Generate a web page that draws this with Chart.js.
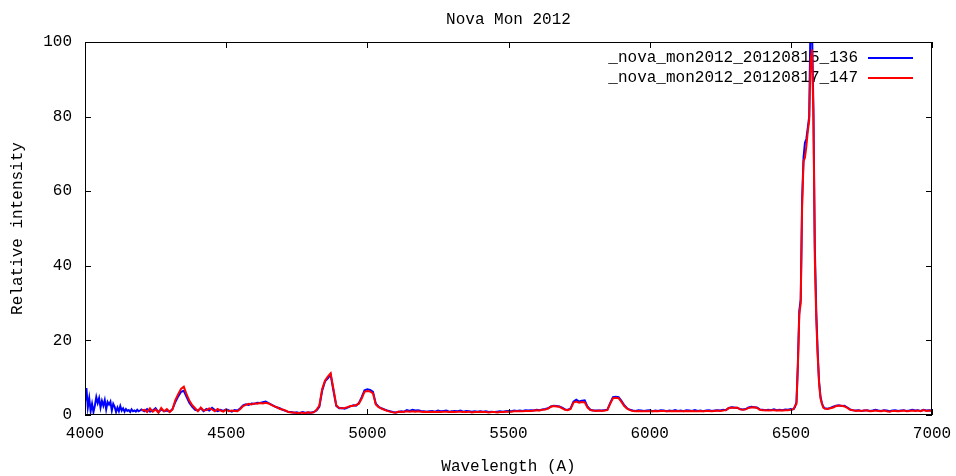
<!DOCTYPE html>
<html>
<head>
<meta charset="utf-8">
<title>Nova Mon 2012</title>
<script src="https://cdn.jsdelivr.net/npm/chart.js@4"></script>
<style>
  html, body { margin: 0; padding: 0; background: #fff; }
  #wrap { width: 956px; height: 476px; position: relative; }
</style>
</head>
<body>
<div id="wrap"><canvas id="novaChart"></canvas></div>
<script>
// Longitudes de onda (A) y espectros
const wavelength = [
  4000,4005,4010,4015,4020,4025,4030,4035,4040,4045,
  4050,4055,4060,4065,4070,4075,4080,4085,4090,4095,
  4100,4105,4110,4115,4120,4125,4130,4135,4140,4145,
  4150,4155,4160,4165,4170,4175,4180,4185,4190,4195,
  4200,4210,4220,4230,4240,4250,4260,4270,4280,4290,
  4300,4310,4320,4330,4340,4350,4360,4370,4380,4390,
  4400,4410,4420,4430,4440,4450,4460,4470,4480,4490,
  4500,4510,4520,4530,4540,4550,4560,4570,4580,4590,
  4600,4610,4620,4630,4640,4650,4660,4670,4680,4690,
  4700,4710,4720,4730,4740,4750,4760,4770,4780,4790,
  4800,4810,4820,4830,4840,4850,4860,4870,4880,4890,
  4900,4910,4920,4930,4940,4950,4960,4970,4980,4990,
  5000,5010,5020,5030,5040,5050,5060,5070,5080,5090,
  5100,5110,5120,5130,5140,5150,5160,5170,5180,5190,
  5200,5210,5220,5230,5240,5250,5260,5270,5280,5290,
  5300,5310,5320,5330,5340,5350,5360,5370,5380,5390,
  5400,5410,5420,5430,5440,5450,5460,5470,5480,5490,
  5500,5510,5520,5530,5540,5550,5560,5570,5580,5590,
  5600,5610,5620,5630,5640,5650,5660,5670,5680,5690,
  5700,5710,5720,5730,5740,5750,5760,5770,5780,5790,
  5800,5810,5820,5830,5840,5850,5860,5870,5880,5890,
  5900,5910,5920,5930,5940,5950,5960,5970,5980,5990,
  6000,6010,6020,6030,6040,6050,6060,6070,6080,6090,
  6100,6110,6120,6130,6140,6150,6160,6170,6180,6190,
  6200,6210,6220,6230,6240,6250,6260,6270,6280,6290,
  6300,6310,6320,6330,6340,6350,6360,6370,6380,6390,
  6400,6410,6420,6430,6440,6450,6460,6470,6480,6490,
  6500,6505,6510,6515,6520,6525,6530,6535,6540,6545,
  6550,6555,6560,6565,6570,6575,6580,6585,6590,6595,
  6600,6605,6610,6615,6620,6630,6640,6650,6660,6670,
  6680,6690,6700,6710,6720,6730,6740,6750,6760,6770,
  6780,6790,6800,6810,6820,6830,6840,6850,6860,6870,
  6880,6890,6900,6910,6920,6930,6940,6950,6960,6970,
  6980,6990,7000
];

const flux0815 = [
  3.5,7.2,2.0,4.5,1.0,3.0,0.8,2.5,4.8,3.2,
  4.5,2.0,3.8,2.5,4.0,1.5,3.5,2.8,3.6,1.2,
  3.0,2.2,0.8,2.0,1.0,2.4,1.2,1.8,0.9,1.6,
  1.1,1.3,0.8,1.5,1.0,1.2,0.9,1.4,1.0,1.2,
  1.5,1.0,1.6,0.9,1.2,1.8,0.8,1.5,1.0,1.2,
  0.9,1.6,3.5,5.0,6.2,6.5,4.8,3.2,2.2,1.4,
  1.2,1.8,1.0,1.6,1.2,1.9,1.3,1.0,1.4,1.1,
  1.5,1.2,0.9,1.3,1.2,1.8,2.6,2.9,2.7,3.1,
  3.0,3.3,3.2,3.4,3.6,3.2,2.8,2.4,2.0,1.8,
  1.4,1.1,0.9,0.8,0.6,0.7,0.5,0.8,0.6,0.7,
  0.6,0.8,1.2,2.2,6.5,9.0,9.8,10.8,6.5,2.4,
  1.8,1.9,1.7,2.0,2.3,2.6,2.5,3.2,4.8,6.6,
  6.9,6.7,6.2,3.0,2.2,1.8,1.5,1.2,1.0,0.8,
  0.7,0.8,1.0,0.9,1.3,1.1,1.4,1.2,1.3,1.1,
  1.0,0.9,1.0,1.1,0.9,1.2,1.0,1.1,1.2,0.9,
  1.0,1.1,1.0,1.2,0.9,1.1,1.0,0.9,1.0,0.9,
  1.0,0.9,1.0,0.8,0.9,0.8,0.9,1.0,0.9,1.0,
  1.1,1.0,1.2,1.1,1.2,1.1,1.3,1.2,1.3,1.2,
  1.4,1.3,1.5,1.6,1.8,2.3,2.5,2.4,2.3,2.0,
  1.5,1.4,1.8,3.6,4.1,3.6,3.8,3.9,2.2,1.4,
  1.2,1.2,1.2,1.2,1.3,1.4,3.2,4.8,4.9,4.8,
  3.8,2.6,1.8,1.4,1.2,1.1,1.3,1.2,1.1,1.2,
  1.3,1.0,1.2,1.1,1.3,1.2,1.0,1.2,1.1,1.3,
  1.1,1.2,1.0,1.3,1.2,1.1,1.3,1.1,1.2,1.0,
  1.2,1.3,1.1,1.2,1.3,1.2,1.4,1.3,1.9,2.1,
  2.0,1.9,1.6,1.5,1.6,2.0,2.2,2.1,2.0,1.5,
  1.4,1.3,1.4,1.3,1.5,1.3,1.4,1.3,1.5,1.4,
  1.6,1.5,1.6,2.2,3.5,14.0,28.0,31.0,58.0,69.0,
  73.0,74.0,77.0,80.0,108.0,104.0,82.0,45.0,28.0,17.0,
  9.0,5.0,3.2,2.2,1.8,1.7,1.9,2.2,2.5,2.6,
  2.4,2.5,2.0,1.5,1.3,1.2,1.3,1.1,1.2,1.3,
  1.1,1.2,1.4,1.2,1.1,1.3,1.2,1.0,1.2,1.3,
  1.1,1.2,1.3,1.1,1.2,1.4,1.2,1.3,1.1,1.4,
  1.2,1.3,1.2
];

const flux0817 = [
  null,null,null,null,null,null,null,null,null,null,
  null,null,null,null,null,null,null,null,null,null,
  null,null,null,null,null,null,null,null,null,null,
  null,null,null,null,null,null,null,null,null,null,
  1.2,1.4,0.8,1.8,0.9,1.5,0.6,1.9,1.0,1.6,
  0.8,1.5,4.0,5.6,7.0,7.6,5.5,3.8,2.6,1.8,
  1.0,2.0,1.2,1.3,1.8,1.5,1.0,1.6,1.2,0.9,
  1.4,1.0,1.2,1.1,1.0,1.6,2.4,2.7,3.0,2.8,
  3.1,3.0,3.2,3.1,3.3,3.1,2.7,2.3,2.1,1.6,
  1.5,1.2,0.8,0.7,0.7,0.5,0.6,0.6,0.5,0.7,
  0.6,0.7,1.4,2.5,7.0,9.2,10.3,11.2,7.0,2.6,
  1.9,1.8,1.9,2.1,2.4,2.5,2.7,3.0,4.4,6.2,
  6.4,6.3,5.8,2.8,2.1,1.7,1.4,1.1,0.9,0.7,
  0.6,0.9,0.8,0.9,1.0,0.9,1.0,0.9,1.0,0.9,
  0.8,0.9,0.8,0.9,0.8,0.9,0.8,0.9,0.9,0.8,
  0.9,0.8,0.9,0.9,0.8,0.8,0.9,0.7,0.8,0.8,
  0.9,0.8,0.8,0.7,0.8,0.8,0.7,0.8,0.8,0.9,
  0.9,0.9,1.0,1.0,1.0,1.0,1.1,1.1,1.1,1.2,
  1.3,1.2,1.4,1.5,1.7,2.2,2.4,2.3,2.2,1.8,
  1.4,1.3,1.6,3.3,3.6,3.3,3.5,3.4,2.0,1.3,
  1.2,1.1,1.2,1.1,1.2,1.3,3.0,4.5,4.6,4.5,
  3.5,2.4,1.7,1.3,1.1,1.0,1.1,1.0,1.0,1.0,
  1.1,1.0,1.1,1.0,1.1,1.1,1.0,1.0,1.1,1.0,
  1.1,1.0,1.0,1.1,1.0,1.1,1.0,1.0,1.1,1.0,
  1.1,1.1,1.0,1.1,1.2,1.1,1.2,1.3,1.8,2.0,
  1.9,2.0,1.5,1.4,1.5,1.9,2.0,2.1,1.9,1.4,
  1.3,1.3,1.2,1.3,1.3,1.2,1.3,1.2,1.3,1.3,
  1.4,1.5,1.6,2.5,3.0,13.0,27.0,30.0,56.0,68.0,
  69.0,72.0,76.0,79.0,95.0,98.0,80.0,42.0,26.0,16.0,
  8.5,4.5,3.0,2.0,1.7,1.6,1.8,2.0,2.4,2.5,
  2.5,2.3,1.9,1.4,1.3,1.1,1.2,1.1,1.2,1.2,
  1.0,1.1,1.2,1.1,1.0,1.2,1.0,0.9,1.1,1.1,
  1.0,1.1,1.2,1.0,1.1,1.2,1.1,1.2,1.0,1.3,
  1.1,1.2,1.1
];

const seriesNames = ['_nova_mon2012_20120815_136', '_nova_mon2012_20120817_147'];
const seriesColors = ['#0000ff', '#ff0000'];
const xTicks = [4000, 4500, 5000, 5500, 6000, 6500, 7000];
const yTicks = [0, 20, 40, 60, 80, 100];

const FONT = "'Liberation Mono', 'DejaVu Sans Mono', monospace";
Chart.defaults.font.family = FONT;
Chart.defaults.font.size = 16;
Chart.defaults.color = '#000';

function toPoints(flux) {
    return wavelength.map(function (w, i) { return { x: w, y: flux[i] }; });
}

// Marco y marcas hacia dentro, estilo gnuplot
const frameTicks = {
    id: 'frameTicks',
    afterDatasetsDraw(chart) {
        const ctx = chart.ctx;
        const a = chart.chartArea;
        const xs = chart.scales.x, ys = chart.scales.y;
        const len = 6;
        ctx.save();
        ctx.strokeStyle = '#000';
        ctx.lineWidth = 1;
        ctx.strokeRect(Math.round(a.left) + 0.5, Math.round(a.top) + 0.5,
            Math.round(a.right - a.left) - 1, Math.round(a.bottom - a.top) - 1);
        ctx.beginPath();
        xTicks.forEach(function (v) {
            const px = Math.round(xs.getPixelForValue(v)) + 0.5;
            ctx.moveTo(px, a.bottom); ctx.lineTo(px, a.bottom - len);
            ctx.moveTo(px, a.top); ctx.lineTo(px, a.top + len);
        });
        yTicks.forEach(function (v) {
            const py = Math.round(ys.getPixelForValue(v)) + 0.5;
            ctx.moveTo(a.left, py); ctx.lineTo(a.left + len, py);
            ctx.moveTo(a.right, py); ctx.lineTo(a.right - len, py);
        });
        ctx.stroke();
        ctx.restore();
    }
};

// Leyenda arriba a la derecha: texto alineado a la derecha y muestra de linea
const keyBox = {
    id: 'keyBox',
    beforeDatasetsDraw(chart) {
        const ctx = chart.ctx;
        const a = chart.chartArea;
        ctx.save();
        ctx.font = '16px ' + FONT;
        ctx.textAlign = 'right';
        ctx.textBaseline = 'middle';
        chart.data.datasets.forEach(function (ds, i) {
            const y = a.top + 16 + i * 20;
            ctx.fillStyle = '#000';
            ctx.fillText(ds.label, a.right - 74, y);
            ctx.strokeStyle = ds.borderColor;
            ctx.lineWidth = 2;
            ctx.beginPath();
            ctx.moveTo(a.right - 64, y);
            ctx.lineTo(a.right - 19, y);
            ctx.stroke();
        });
        ctx.restore();
    }
};

const ctx = document.getElementById('novaChart').getContext('2d');
const novaChart = new Chart(ctx, {
    type: 'line',
    data: {
        datasets: [{
            label: seriesNames[0],
            data: toPoints(flux0815),
            borderColor: seriesColors[0],
            borderWidth: 2,
            pointRadius: 0,
            tension: 0,
            order: 1
        }, {
            label: seriesNames[1],
            data: toPoints(flux0817),
            borderColor: seriesColors[1],
            borderWidth: 2,
            pointRadius: 0,
            tension: 0,
            spanGaps: false,
            order: 0
        }]
    },
    options: {
        responsive: true,
        maintainAspectRatio: false,
        devicePixelRatio: 1,
        animation: false,
        layout: { padding: { left: 0, right: 24, top: 0, bottom: 0 } },
        plugins: {
            legend: { display: false },
            tooltip: { enabled: false },
            title: {
                display: true,
                fullSize: false,
                text: 'Nova Mon 2012',
                color: '#000',
                font: { size: 16, weight: 'normal' },
                padding: { top: 10.4, bottom: 12.4 }
            }
        },
        scales: {
            x: {
                type: 'linear',
                min: 4000,
                max: 7000,
                afterBuildTicks: function (axis) { axis.ticks = xTicks.map(function (v) { return { value: v }; }); },
                afterFit: function (scale) {
                    scale.height = 61;
                    scale.paddingLeft = 0;
                    scale.paddingRight = 0;
                },
                grid: { display: false, drawTicks: false },
                border: { display: false },
                ticks: {
                    padding: 9, maxRotation: 0, autoSkip: false, color: '#000',
                    callback: function (v) { return String(v); }
                },
                title: { display: true, text: 'Wavelength (A)', color: '#000', padding: { top: 0, bottom: 0 } }
            },
            y: {
                type: 'linear',
                min: 0,
                max: 100,
                afterBuildTicks: function (axis) { axis.ticks = yTicks.map(function (v) { return { value: v }; }); },
                afterFit: function (scale) {
                    scale.width = 85;
                    scale.paddingTop = 0;
                    scale.paddingBottom = 0;
                },
                grid: { display: false, drawTicks: false },
                border: { display: false },
                ticks: { padding: 13, color: '#000', callback: function (v) { return String(v); } },
                title: { display: true, text: 'Relative intensity', color: '#000', padding: { top: 8, bottom: 0 } }
            }
        }
    },
    plugins: [frameTicks, keyBox]
});
</script>
</body>
</html>
